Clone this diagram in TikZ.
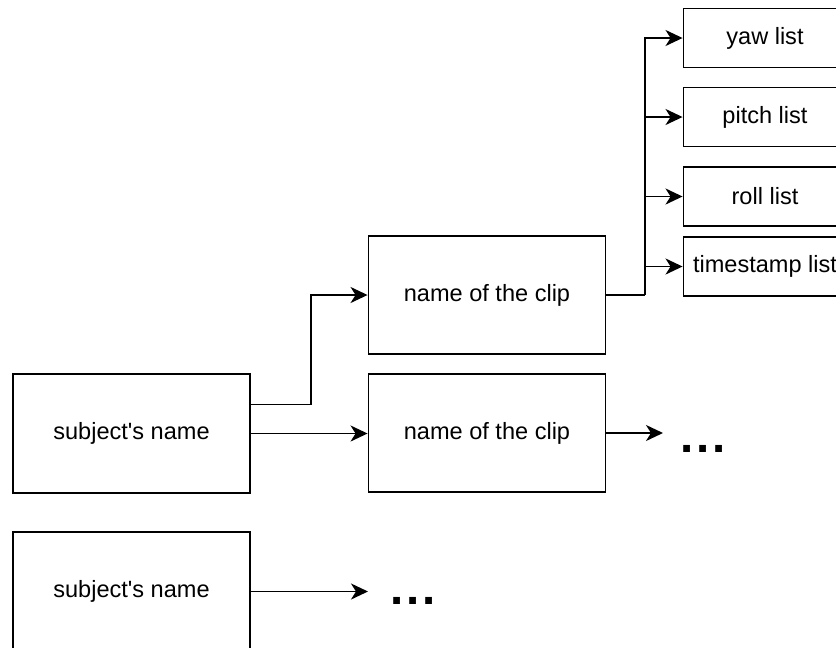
\documentclass[tikz,border=0pt]{standalone}
\usepackage{fontspec}
\setmainfont{Liberation Sans}
\usetikzlibrary{arrows.meta}

\begin{document}
\begin{tikzpicture}[x=0.02cm, y=-0.02cm, line width=1.1pt,
    >={Stealth[length=0.34cm, width=0.32cm, inset=0.1cm]},
    every node/.style={font=\fontsize{13.4}{16}\selectfont},
    bigbox/.style={draw, minimum width=4.74cm, minimum height=2.37cm},
    listbox/.style={draw, minimum width=3.26cm, minimum height=1.18cm},
    dots/.style={font=\fontsize{27}{30}\selectfont\bfseries, inner sep=0pt, anchor=base west}]
    \useasboundingbox (0,0) rectangle (836,647);
    \node [bigbox] (sub1) at (131.5,433.5) {subject\textquotesingle s name};
    \node [bigbox] (sub2) at (131.5,591.5) {subject\textquotesingle s name};
    \node [bigbox] (clip1) at (487,295) {name of the clip};
    \node [bigbox] (clip2) at (487,433) {name of the clip};
    \node [listbox] (yaw) at (765,38) {yaw list};
    \node [listbox] (pitch) at (765,117) {pitch list};
    \node [listbox] (roll) at (765,196.5) {roll list};
    \node [listbox] (ts) at (765,266.5) {timestamp list};
    \node [dots] (dots1) at (680,452) {.\hspace{0.05cm}.\hspace{0.05cm}.};
    \node [dots] (dots2) at (390,604) {.\hspace{0.05cm}.\hspace{0.05cm}.};
    \draw [->] ([yshift=0.58cm]sub1.east) -- ++(1.2cm,0) |- (clip1.west);
    \draw [->] (sub1.east) -- (clip1.west |- sub1.east);
    \draw (clip1.east) -- ++(0.78cm,0) coordinate (split);
    \foreach \n in {yaw,pitch,roll,ts}
        \draw [->] (split) |- (\n.west);
    \draw [->, shorten >=0.34cm] (clip2.east) -- (clip2.east -| dots1.west);
    \draw [->, shorten >=0.44cm] (sub2.east) -- (sub2.east -| dots2.west);
\end{tikzpicture}
\end{document}
